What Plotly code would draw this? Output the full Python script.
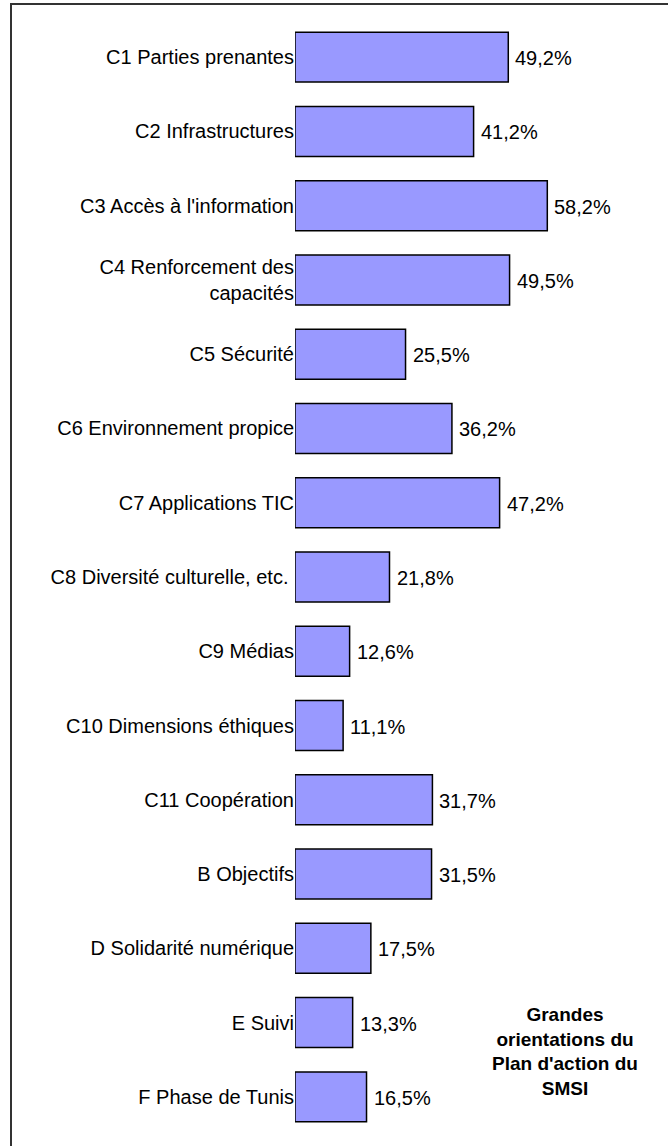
import plotly.graph_objects as go

categories = [
    "C1 Parties prenantes",
    "C2 Infrastructures",
    "C3 Accès à l'information",
    "C4 Renforcement des<br>capacités",
    "C5 Sécurité",
    "C6 Environnement propice",
    "C7 Applications TIC",
    "C8 Diversité culturelle, etc. ",
    "C9 Médias",
    "C10 Dimensions éthiques",
    "C11 Coopération",
    "B Objectifs",
    "D Solidarité numérique",
    "E Suivi",
    "F Phase de Tunis",
]
values = [49.2, 41.2, 58.2, 49.5, 25.5, 36.2, 47.2, 21.8, 12.6, 11.1, 31.7, 31.5, 17.5, 13.3, 16.5]
value_labels = [f"{v:.1f}".replace(".", ",") + "%" for v in values]
note_text = "Grandes<br>orientations du<br>Plan d'action du<br>SMSI"

W, H = 668, 1146
ML, MR, MT, MB = 295, 9, 20, 12
PW = W - ML - MR
PH = H - MT - MB

font = "Liberation Sans, Arial, sans-serif"

fig = go.Figure()
fig.add_trace(go.Bar(
    y=categories,
    x=values,
    orientation="h",
    width=0.673,
    marker=dict(color="#9999FF", line=dict(color="#000000", width=1.5)),
    hoverinfo="x+y",
))

annotations = []
for c, v, t in zip(categories, values, value_labels):
    annotations.append(dict(
        x=v, y=c, xref="x", yref="y", text=t, showarrow=False,
        xanchor="left", yanchor="middle", xshift=5, yshift=-1,
        font=dict(family=font, size=20, color="#000000"),
    ))

annotations.append(dict(
    x=(565 - ML) / PW, y=1 - (1051 - MT) / PH, xref="paper", yref="paper",
    text="<b>" + note_text + "</b>", showarrow=False,
    xanchor="center", yanchor="middle", align="center",
    font=dict(family=font, size=19, color="#000000"),
))

fig.update_layout(
    width=W, height=H,
    margin=dict(l=ML, r=MR, t=MT, b=MB),
    paper_bgcolor="white", plot_bgcolor="white",
    showlegend=False,
    annotations=annotations,
    shapes=[dict(
        type="rect", xref="paper", yref="paper",
        x0=(11 - ML) / PW, x1=(670 - ML) / PW,
        y0=-(MB + 10) / PH, y1=1 + (MT - 4) / PH,
        line=dict(color="#333333", width=2), fillcolor="rgba(0,0,0,0)",
        layer="above",
    )],
    xaxis=dict(range=[0, PW / 4.335], visible=False, fixedrange=True),
    yaxis=dict(
        autorange="reversed", showgrid=False, zeroline=False, showline=False,
        ticks="", ticklabelstandoff=0,
        tickfont=dict(family=font, size=20, color="#000000"),
    ),
    bargap=0.3,
)

fig.write_html(
    "out.html",
    config={"displayModeBar": False},
    post_script="document.body.style.margin='0';document.body.style.overflow='hidden';",
)
